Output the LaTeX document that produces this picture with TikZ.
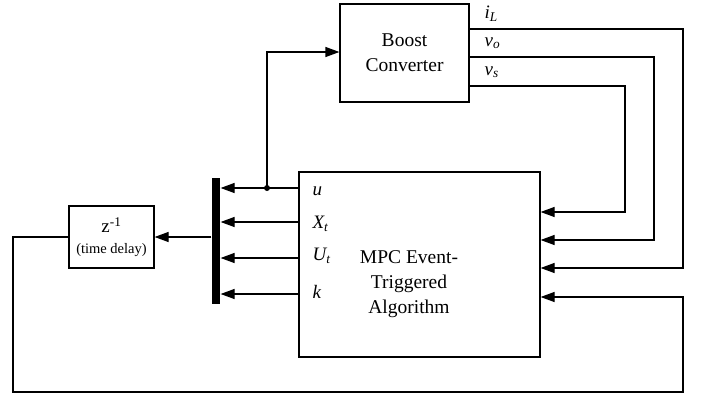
\documentclass[tikz,border=0pt]{standalone}
\usepackage{fontspec}
\setmainfont{Liberation Serif}
\usetikzlibrary{arrows.meta}
\begin{document}
\begin{tikzpicture}[x=1pt,y=-1pt,
  line width=1.2pt,
  blk/.style={draw, rectangle, inner sep=0pt, line width=1.2pt},
  arr/.style={-{Triangle[length=14pt,width=10pt]}},
  lbl/.style={anchor=west, inner sep=0pt, font=\fontsize{19}{21}\selectfont\itshape},
  big/.style={font=\fontsize{19.5}{25}\selectfont, align=center}]
\useasboundingbox (0,0) rectangle (702,399);
% blocks
\node[blk, minimum width=129pt, minimum height=98pt, big] (boost) at (404.5,53) {Boost\\Converter};
\node[blk, minimum width=241pt, minimum height=185pt] (mpc) at (419.5,264.5) {};
\node[big, inner sep=0pt] (mpctext) at (409,284) {MPC Event-\\Triggered\\Algorithm};
\node[blk, minimum width=85pt, minimum height=62pt, align=center, font=\fontsize{19}{23}\selectfont] (delay) at (111.5,237) {z\textsuperscript{-1}\\[-2pt]{\fontsize{14.5}{16}\selectfont (time delay)}};
\node[fill=black, draw=none, minimum width=8pt, minimum height=126pt, inner sep=0pt] (bus) at (216,241) {};
% reference rows
\coordinate (yiL) at (0,29);
\coordinate (yvo) at (0,57);
\coordinate (yvs) at (0,86);
\coordinate (yin) at (0,52);
\coordinate (y1) at (0,212);
\coordinate (y2) at (0,240);
\coordinate (y3) at (0,268);
\coordinate (y4) at (0,297);
\coordinate (yu) at (0,188);
\coordinate (yX) at (0,222);
\coordinate (yU) at (0,258);
\coordinate (yk) at (0,294);
\coordinate (yd) at (0,237);
\coordinate (xs) at (625,0);
\coordinate (xo) at (654,0);
\coordinate (xL) at (683,0);
\coordinate (xl) at (13,0);
\coordinate (ybot) at (0,392);
\coordinate (tap) at (267,188);
% feedback from boost converter
\draw[arr] (boost.east |- yvs) -| (xs |- y1) -- (mpc.east |- y1);
\draw[arr] (boost.east |- yvo) -| (xo |- y2) -- (mpc.east |- y2);
\draw[arr] (boost.east |- yiL) -| (xL |- y3) -- (mpc.east |- y3);
% outputs to bus
\draw[arr] (mpc.west |- yu) -- (bus.east |- yu);
\draw[arr] (mpc.west |- yX) -- (bus.east |- yX);
\draw[arr] (mpc.west |- yU) -- (bus.east |- yU);
\draw[arr] (mpc.west |- yk) -- (bus.east |- yk);
% control to boost
\fill (tap) circle (3pt);
\draw[arr] (tap) |- (boost.west |- yin);
% bus to delay
\draw[arr] (bus.west |- yd) -- (delay.east |- yd);
% delay back to MPC
\draw[arr] (delay.west) -- (xl |- yd) |- (xL |- ybot) |- (mpc.east |- y4);
% labels
\node[lbl] (lu) at (312,191) {u};
\node[lbl] (lX) at (312,224) {X\textsubscript{t}};
\node[lbl] (lU) at (312,256) {U\textsubscript{t}};
\node[lbl] (lk) at (312,292) {k};
\node[lbl] (liL) at (484,14) {i\textsubscript{L}};
\node[lbl] (lvo) at (484,43) {v\textsubscript{o}};
\node[lbl] (lvs) at (484,72) {v\textsubscript{s}};
\end{tikzpicture}
\end{document}
